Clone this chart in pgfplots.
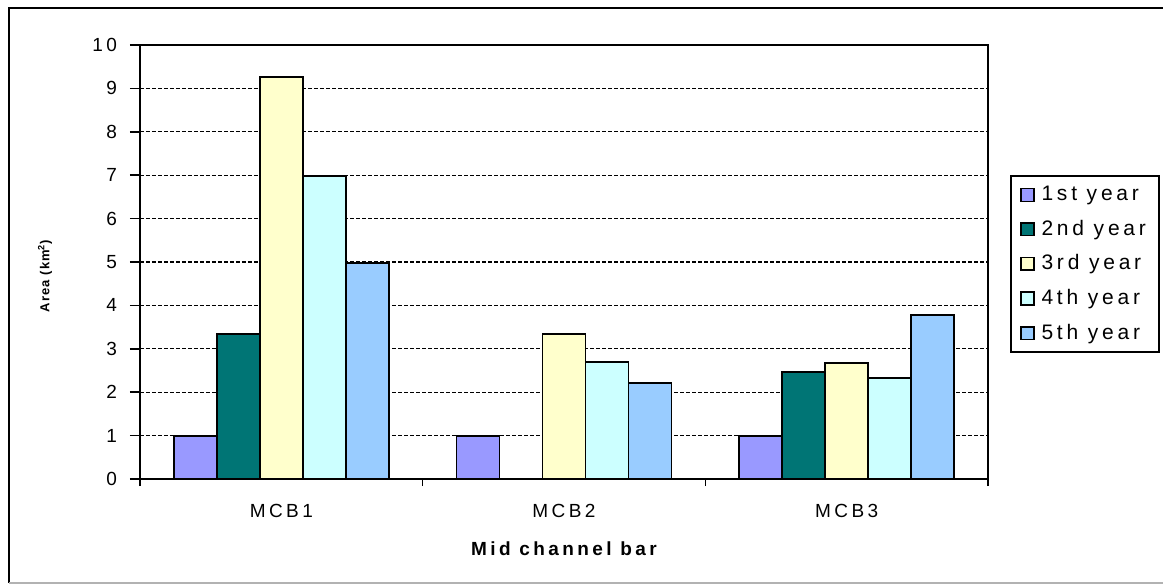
\documentclass[border=0pt]{standalone}
\usepackage{pgfplots}
\pgfplotsset{compat=1.18}
\usepackage{fontspec}
\setmainfont{Liberation Sans}[LetterSpace=18]

\definecolor{yrA}{HTML}{9999FF}
\definecolor{yrB}{HTML}{007575}
\definecolor{yrC}{HTML}{FFFFCC}
\definecolor{yrD}{HTML}{CCFFFF}
\definecolor{yrE}{HTML}{99CCFF}

\begin{document}
\begin{tikzpicture}
\useasboundingbox (0,0) rectangle (581.5pt,-292pt);
% outer chart frame
\draw[line width=1.1pt] (581.5pt,-4pt) -- (4.5pt,-4pt) -- (4.5pt,-291.5pt);
\draw[gray!60, line width=0.6pt] (4.5pt,-291.5pt) -- (581.5pt,-291.5pt);

\begin{axis}[
  at={(70pt,-239.5pt)}, anchor=south west,
  scale only axis, width=424pt, height=217pt,
  xmin=-0.5, xmax=2.5, ymin=0, ymax=10,
  ybar=0pt, bar width=21.5pt,
  axis line style={line width=1.2pt},
  tick align=outside, ytick pos=left, xtick pos=bottom,
  ytick={0,1,...,10},
  major tick length=5pt,
  tick style={black, line width=0.8pt},
  xtick={0,1,2}, xticklabels={MCB1,MCB2,MCB3},
  major x tick style={draw=none},
  minor xtick={-0.5,0.5,1.5,2.5}, minor tick length=3.5pt,
  ymajorgrids,
  major grid style={black, dashed, line width=0.6pt, dash pattern=on 2pt off 1pt},
  /pgf/number format/assume math mode=true,
  ticklabel style={font=\fontsize{9.5}{11}\selectfont},
  yticklabel style={xshift=-3pt},
  xticklabel style={yshift=-4pt},
  xlabel={Mid channel bar},
  xlabel style={font=\bfseries\fontsize{9.5}{11}\selectfont, at={(axis description cs:0.5,-0.161)}, anchor=center},
  ylabel={Area (km\textsuperscript{2})},
  ylabel style={font=\bfseries\fontsize{6.5}{8}\selectfont\addfontfeature{LetterSpace=8}, at={(axis description cs:-0.112,0.468)}, anchor=center},
  every axis plot/.append style={draw=black, line width=0.9pt},
  legend image code/.code={\draw[#1, line width=0.8pt] (0pt,-3.2pt) rectangle (6.4pt,3.2pt);},
  legend style={at={(1.026,0.700)}, anchor=north west, draw=black, line width=1.1pt,
    font=\fontsize{10.5}{12}\selectfont, cells={anchor=west},
    /tikz/every odd column/.append style={column sep=1.5pt},
    row sep=4.2pt, inner xsep=4.5pt, inner ysep=3pt},
]
\addplot[fill=yrA] coordinates {(0,1.0) (1,1.0) (2,1.0)};
\addplot[fill=yrB] coordinates {(0,3.35) (2,2.46)};
\addplot[fill=yrC] coordinates {(0,9.26) (1,3.35) (2,2.67)};
\addplot[fill=yrD] coordinates {(0,6.98) (1,2.70) (2,2.33)};
\addplot[fill=yrE] coordinates {(0,4.98) (1,2.21) (2,3.78)};
\legend{1st year, 2nd year, 3rd year, 4th year, 5th year}
\end{axis}
\end{tikzpicture}
\end{document}
